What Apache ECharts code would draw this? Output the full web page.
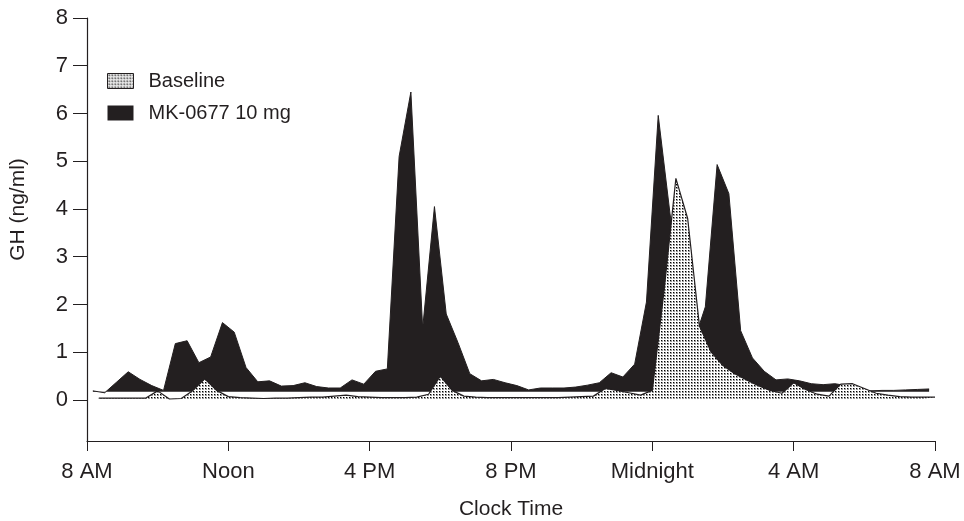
<!DOCTYPE html>
<html>
<head>
<meta charset="utf-8">
<script src="https://cdn.jsdelivr.net/npm/echarts@6/dist/echarts.min.js"></script>
<style>html,body{margin:0;padding:0;background:#fff}#c{width:964px;height:521px}</style>
</head>
<body>
<div id="c"></div>
<script>
// Time axis tick labels (hours after 8 AM: 0,4,...,24)
const xTickLabels = ['8 AM', 'Noon', '4 PM', '8 PM', 'Midnight', '4 AM', '8 AM'];
const yTickValues = [0, 1, 2, 3, 4, 5, 6, 7, 8];

// Sampling: every 20 minutes
const mkStartHour = 1 / 6;   // first MK sample (hours after 8 AM)
const baseStartHour = 1 / 3; // first Baseline sample
const stepHour = 1 / 3;

// GH (ng/ml), MK-0677 10 mg
const mkValues = [
  0.19, 0.15, 0.37, 0.59, 0.43, 0.30, 0.20, 1.18, 1.24, 0.78,
  0.90, 1.62, 1.42, 0.68, 0.38, 0.40, 0.29, 0.30, 0.36, 0.28,
  0.25, 0.25, 0.42, 0.33, 0.60, 0.65, 5.10, 6.45, 1.50, 4.05,
  1.80, 1.20, 0.55, 0.40, 0.43, 0.36, 0.30, 0.21, 0.25, 0.25,
  0.25, 0.27, 0.31, 0.36, 0.57, 0.48, 0.75, 2.05, 5.96, 3.90,
  2.20, 1.20, 1.95, 4.93, 4.32, 1.45, 0.88, 0.60, 0.42, 0.44,
  0.40, 0.34, 0.32, 0.34, 0.30, 0.24, 0.19, 0.20, 0.20, 0.21,
  0.22, 0.23
];

// GH (ng/ml), Baseline
const baseValues = [
  0.04, 0.04, 0.04, 0.04, 0.04, 0.19, 0.02, 0.03, 0.20, 0.44,
  0.20, 0.07, 0.05, 0.04, 0.03, 0.04, 0.04, 0.05, 0.06, 0.06,
  0.08, 0.10, 0.07, 0.06, 0.05, 0.05, 0.05, 0.06, 0.12, 0.50,
  0.20, 0.08, 0.06, 0.05, 0.05, 0.05, 0.05, 0.05, 0.05, 0.05,
  0.06, 0.07, 0.08, 0.24, 0.20, 0.15, 0.10, 0.20, 2.30, 4.64,
  3.80, 1.55, 1.00, 0.72, 0.55, 0.42, 0.30, 0.20, 0.14, 0.36,
  0.22, 0.12, 0.08, 0.33, 0.34, 0.24, 0.14, 0.10, 0.07, 0.06,
  0.06, 0.06
];

const mkData = mkValues.map((v, i) => [mkStartHour + i * stepHour, v]);
const baseData = baseValues.map((v, i) => [baseStartHour + i * stepHour, v]);

// dotted fill pattern
const pc = document.createElement('canvas');
pc.width = 3; pc.height = 3;
const pctx = pc.getContext('2d');
pctx.fillStyle = '#ffffff'; pctx.fillRect(0, 0, 3, 3);
pctx.fillStyle = '#9a9a9a'; pctx.fillRect(1, 1, 2, 2);
pctx.fillStyle = '#000000'; pctx.fillRect(1, 1, 1, 1);
const dotPattern = { image: pc, repeat: 'repeat' };

const INK = '#231f20';
const FONT = 'Liberation Sans';

const chart = echarts.init(document.getElementById('c'), null, { renderer: 'canvas' });
chart.setOption({
  animation: false,
  backgroundColor: '#fff',
  textStyle: { fontFamily: FONT, color: INK },
  grid: { left: 87, right: 29, top: 18, bottom: 80, containLabel: false, outerBoundsMode: 'none' },
  legend: {
    orient: 'vertical',
    left: 102, top: 66,
    icon: 'rect',
    itemWidth: 26, itemHeight: 15, itemGap: 12,
    textStyle: { fontFamily: FONT, fontSize: 20, color: INK, padding: [0, 0, 0, 10] },
    data: [
      { name: 'Baseline', itemStyle: { color: dotPattern, borderColor: INK, borderWidth: 1 } },
      { name: 'MK-0677 10 mg', itemStyle: { color: INK } }
    ]
  },
  xAxis: {
    type: 'value',
    min: 0, max: 24, interval: 4,
    name: 'Clock Time',
    nameLocation: 'middle',
    nameGap: 58,
    nameTextStyle: { fontFamily: FONT, fontSize: 21, color: INK },
    axisLine: { onZero: false, lineStyle: { color: INK, width: 1.2 } },
    axisTick: { show: true, length: 10, inside: false, lineStyle: { color: INK } },
    axisLabel: {
      margin: 20, fontFamily: FONT, fontSize: 22, color: INK,
      formatter: v => xTickLabels[Math.round(v / 4)]
    },
    splitLine: { show: false }
  },
  yAxis: {
    type: 'value',
    min: -0.86, max: 8,
    name: 'GH (ng/ml)',
    nameLocation: 'middle',
    nameGap: 58,
    nameRotate: 90,
    nameTextStyle: { fontFamily: FONT, fontSize: 21, color: INK, padding: [0, 0, 0, 40] },
    axisLine: { show: true, lineStyle: { color: INK, width: 1.2 } },
    axisTick: { show: true, length: 14, customValues: yTickValues, lineStyle: { color: INK } },
    axisLabel: { margin: 19, fontFamily: FONT, fontSize: 22, color: INK, customValues: yTickValues },
    splitLine: { show: false }
  },
  series: [
    {
      name: 'MK-0677 10 mg',
      type: 'line',
      data: mkData,
      symbol: 'none',
      z: 2,
      lineStyle: { color: INK, width: 1 },
      itemStyle: { color: INK },
      areaStyle: { color: INK, opacity: 1, origin: 0.17 }
    },
    {
      name: 'Baseline',
      type: 'line',
      data: baseData,
      symbol: 'none',
      z: 3,
      lineStyle: { color: INK, width: 1.2 },
      itemStyle: { color: INK },
      areaStyle: { color: dotPattern, opacity: 1, origin: 0.02 }
    }
  ]
});
</script>
</body>
</html>
